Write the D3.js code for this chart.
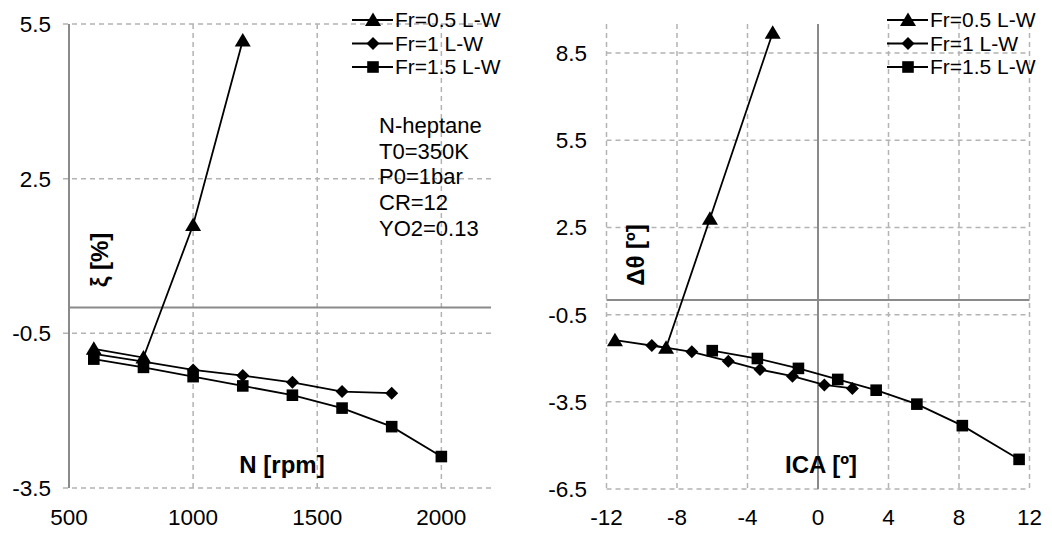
<!DOCTYPE html>
<html>
<head>
<meta charset="utf-8">
<script src="https://cdn.jsdelivr.net/npm/d3@7"></script>
<style>
  body { margin: 0; background: white; }
  text { font-family: "Liberation Sans", Arial, Helvetica, sans-serif; fill: #000; }
</style>
</head>
<body>
<div id="chart"></div>
<script>
// Left panel: xi vs engine speed
const rpm = [600, 800, 1000, 1200, 1400, 1600, 1800, 2000];
const xiFr05 = [-0.8, -0.97, 1.6, 5.18];
const xiFr1 = [-0.9, -1.05, -1.21, -1.32, -1.45, -1.63, -1.66];
const xiFr15 = [-1.0, -1.16, -1.34, -1.52, -1.70, -1.95, -2.31, -2.89];
const leftXTicks = [500, 1000, 1500, 2000];
const leftYTicks = [-3.5, -0.5, 2.5, 5.5];

// Right panel: delta theta vs ICA
const icaFr05 = [-11.52, -8.62, -6.13, -2.57];
const dthFr05 = [-1.38, -1.64, 2.8, 9.2];
const icaFr1 = [-9.43, -7.16, -5.09, -3.29, -1.45, 0.36, 1.95];
const dthFr1 = [-1.56, -1.78, -2.1, -2.39, -2.62, -2.92, -3.04];
const icaFr15 = [-6.0, -3.44, -1.11, 1.12, 3.3, 5.61, 8.19, 11.41];
const dthFr15 = [-1.74, -2.01, -2.35, -2.73, -3.1, -3.58, -4.32, -5.48];
const rightXTicks = [-12, -8, -4, 0, 4, 8, 12];
const rightYTicks = [-6.5, -3.5, -0.5, 2.5, 5.5, 8.5];

const seriesNames = ['Fr=0.5 L-W', 'Fr=1 L-W', 'Fr=1.5 L-W'];
const markerTypes = ['triangle', 'diamond', 'square'];
const notes = ['N-heptane', 'T0=350K', 'P0=1bar', 'CR=12', 'YO2=0.13'];

let width = 1052, height = 534;

let svg = d3.select('#chart')
            .append('svg')
            .attr('width', width)
            .attr('height', height)
            .style('background', 'white');

const gridColor = '#b3b3b3';
const axisColor = '#8a8a8a';

// marker shapes, centred on the point
function markerPath(type) {
    if (type === 'triangle') return 'M0,-7.5L8,6L-8,6Z';
    if (type === 'diamond') return 'M0,-6.5L6.5,0L0,6.5L-6.5,0Z';
    return 'M-5.8,-5.8H5.8V5.8H-5.8Z';
}

function drawSeries(g, xs, ys, xScale, yScale, type) {
    const pts = xs.map((x, i) => [xScale(x), yScale(ys[i])]);
    g.append('path')
        .attr('d', d3.line()(pts))
        .attr('fill', 'none')
        .attr('stroke', '#000')
        .attr('stroke-width', 1.8);
    g.selectAll(null)
        .data(pts)
        .enter()
        .append('path')
        .attr('d', markerPath(type))
        .attr('transform', d => `translate(${d[0]},${d[1]})`)
        .attr('fill', '#000');
}

function drawLegend(g, x0, y0) {
    seriesNames.forEach((name, i) => {
        const y = y0 + i * 23.5;
        g.append('line')
            .attr('x1', x0).attr('x2', x0 + 41)
            .attr('y1', y).attr('y2', y)
            .attr('stroke', '#000').attr('stroke-width', 1.8);
        g.append('path')
            .attr('d', markerPath(markerTypes[i]))
            .attr('transform', `translate(${x0 + 21},${y})`)
            .attr('fill', '#000');
        g.append('text')
            .attr('x', x0 + 43).attr('y', y)
            .attr('dy', '0.35em')
            .style('font-size', '21px')
            .text(name);
    });
}

// ---------- Left panel ----------
let xL = d3.scaleLinear().domain([500, 2200]).range([69, 491]);
let yL = d3.scaleLinear().domain([-3.5, 5.5]).range([488, 24]);
let left = svg.append('g');

// dashed grid
left.selectAll('.hgrid')
    .data(leftYTicks)
    .enter().append('line')
    .attr('x1', 63).attr('x2', 491)
    .attr('y1', d => yL(d)).attr('y2', d => yL(d))
    .attr('stroke', gridColor).attr('stroke-width', 1.5)
    .attr('stroke-dasharray', '5,4');

left.selectAll('.vgrid')
    .data(leftXTicks.slice(1))
    .enter().append('line')
    .attr('x1', d => xL(d)).attr('x2', d => xL(d))
    .attr('y1', 24).attr('y2', 488)
    .attr('stroke', gridColor).attr('stroke-width', 1.5)
    .attr('stroke-dasharray', '5,4');

// solid axes
left.append('line')
    .attr('x1', xL(500)).attr('x2', xL(500))
    .attr('y1', 24).attr('y2', 488)
    .attr('stroke', axisColor).attr('stroke-width', 2);
left.append('line')
    .attr('x1', 69).attr('x2', 491)
    .attr('y1', yL(0)).attr('y2', yL(0))
    .attr('stroke', axisColor).attr('stroke-width', 2);

// tick labels
left.selectAll('.ylab')
    .data(leftYTicks)
    .enter().append('text')
    .attr('x', 51).attr('y', d => yL(d))
    .attr('dy', '0.35em')
    .style('text-anchor', 'end')
    .style('font-size', '22.5px')
    .text(d => d.toFixed(1));

left.selectAll('.xlab')
    .data(leftXTicks)
    .enter().append('text')
    .attr('x', d => xL(d)).attr('y', 525)
    .style('text-anchor', 'middle')
    .style('font-size', '22.5px')
    .text(d => d);

drawSeries(left, rpm.slice(0, 4), xiFr05, xL, yL, 'triangle');
drawSeries(left, rpm.slice(0, 7), xiFr1, xL, yL, 'diamond');
drawSeries(left, rpm, xiFr15, xL, yL, 'square');

drawLegend(left, 352, 20);

left.selectAll('.note')
    .data(notes)
    .enter().append('text')
    .attr('x', 379).attr('y', (d, i) => 125 + i * 25.8)
    .attr('dy', '0.35em')
    .style('font-size', '22px')
    .text(d => d);

// axis titles
left.append('text')
    .attr('x', 282).attr('y', 465)
    .attr('dy', '0.35em')
    .style('text-anchor', 'middle')
    .style('font-size', '24px')
    .style('font-weight', 'bold')
    .text('N [rpm]');

left.append('text')
    .attr('transform', 'translate(100,260) rotate(-90)')
    .attr('dy', '0.35em')
    .style('text-anchor', 'middle')
    .style('font-size', '24px')
    .style('font-weight', 'bold')
    .text('ξ [%]');

// ---------- Right panel ----------
let xR = d3.scaleLinear().domain([-12, 12]).range([606.5, 1029.5]);
let yR = d3.scaleLinear().domain([-6.5, 9.5]).range([489, 24]);
let right = svg.append('g');

right.selectAll('.hgrid')
    .data(rightYTicks)
    .enter().append('line')
    .attr('x1', 606.5).attr('x2', 1029.5)
    .attr('y1', d => yR(d)).attr('y2', d => yR(d))
    .attr('stroke', gridColor).attr('stroke-width', 1.5)
    .attr('stroke-dasharray', '5,4');

right.selectAll('.vgrid')
    .data(rightXTicks.filter(d => d !== 0))
    .enter().append('line')
    .attr('x1', d => xR(d)).attr('x2', d => xR(d))
    .attr('y1', 24).attr('y2', 489)
    .attr('stroke', gridColor).attr('stroke-width', 1.5)
    .attr('stroke-dasharray', '5,4');

right.append('line')
    .attr('x1', xR(0)).attr('x2', xR(0))
    .attr('y1', 24).attr('y2', 489)
    .attr('stroke', axisColor).attr('stroke-width', 2);
right.append('line')
    .attr('x1', 606.5).attr('x2', 1029.5)
    .attr('y1', yR(0)).attr('y2', yR(0))
    .attr('stroke', axisColor).attr('stroke-width', 2);

right.selectAll('.ylab')
    .data(rightYTicks)
    .enter().append('text')
    .attr('x', 587).attr('y', d => yR(d))
    .attr('dy', '0.35em')
    .style('text-anchor', 'end')
    .style('font-size', '22.5px')
    .text(d => d.toFixed(1));

right.selectAll('.xlab')
    .data(rightXTicks)
    .enter().append('text')
    .attr('x', d => xR(d)).attr('y', 525)
    .style('text-anchor', 'middle')
    .style('font-size', '22.5px')
    .text(d => d);

drawSeries(right, icaFr05, dthFr05, xR, yR, 'triangle');
drawSeries(right, icaFr1, dthFr1, xR, yR, 'diamond');
drawSeries(right, icaFr15, dthFr15, xR, yR, 'square');

drawLegend(right, 887, 20);

right.append('text')
    .attr('x', 821).attr('y', 465)
    .attr('dy', '0.35em')
    .style('text-anchor', 'middle')
    .style('font-size', '24px')
    .style('font-weight', 'bold')
    .text('ICA [º]');

right.append('text')
    .attr('transform', 'translate(636,255) rotate(-90)')
    .attr('dy', '0.35em')
    .style('text-anchor', 'middle')
    .style('font-size', '24px')
    .style('font-weight', 'bold')
    .text('Δθ [º]');
</script>
</body>
</html>
